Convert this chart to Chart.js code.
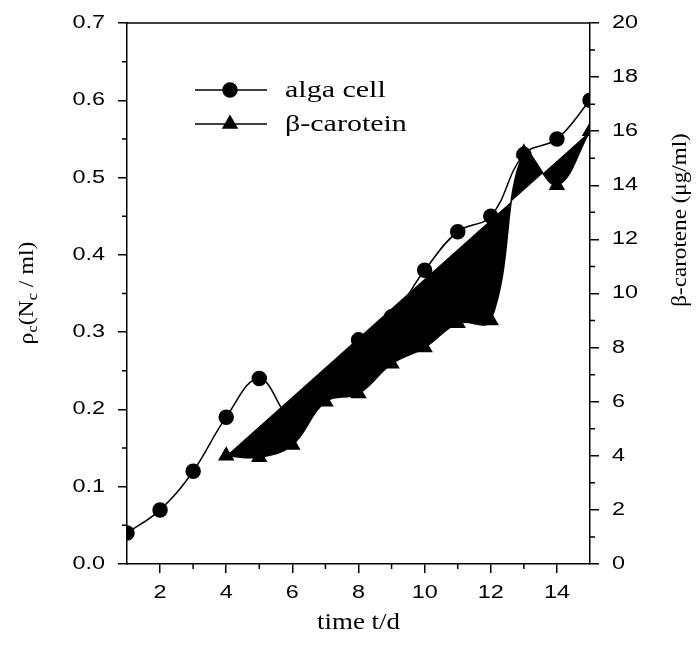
<!DOCTYPE html>
<html>
<head>
<meta charset="utf-8">
<script src="https://cdn.jsdelivr.net/npm/chart.js@4.4.1/dist/chart.umd.min.js"></script>
<style>
  html, body { margin: 0; padding: 0; background: #fff; }
  #wrap { width: 696px; height: 651px; }
</style>
</head>
<body>
<div id="wrap"><canvas id="chart" width="696" height="651"></canvas></div>
<script>
// values
const days = [1, 2, 3, 4, 5, 6, 7, 8, 9, 10, 11, 12, 13, 14, 15];
const algaCell = [0.04, 0.07, 0.12, 0.19, 0.24, 0.19, 0.24, 0.29, 0.32, 0.38, 0.43, 0.45, 0.53, 0.55, 0.60];
const caroteneDays = [4, 5, 6, 7, 8, 9, 10, 11, 12, 13, 14, 15];
const carotene = [4.0, 3.95, 4.4, 6.0, 6.3, 7.4, 8.0, 8.9, 9.0, 15.2, 14.0, 16.0];

const xMajor = [2, 4, 6, 8, 10, 12, 14];
const xMinor = [3, 5, 7, 9, 11, 13];
const leftMajor = [0, 0.1, 0.2, 0.3, 0.4, 0.5, 0.6, 0.7];
const leftMinor = [0.05, 0.15, 0.25, 0.35, 0.45, 0.55, 0.65];
const rightMajor = [0, 2, 4, 6, 8, 10, 12, 14, 16, 18, 20];
const rightMinor = [1, 3, 5, 7, 9, 11, 13, 15, 17, 19];

const SANS = "'Liberation Sans', Arial, sans-serif";
const SERIF = "'Liberation Serif', 'Times New Roman', serif";

const toPoints = (xs, ys) => xs.map((x, i) => ({ x, y: ys[i] }));

// stretched text, the figure's lettering is wide
const wideText = (ctx, str, x, y, sx, align) => {
    ctx.save();
    ctx.translate(x, y);
    ctx.scale(sx, 1);
    ctx.textAlign = align;
    ctx.fillText(str, 0, 0);
    ctx.restore();
}

const setTicks = values => scale => {
    scale.ticks = values.map(value => ({ value }));
}

const decorations = {
    id: 'decorations',
    afterDraw(chart) {
        const { ctx, chartArea: a, scales } = chart;
        ctx.save();
        ctx.strokeStyle = '#000';
        ctx.fillStyle = '#000';
        ctx.lineWidth = 1.5;

        // top frame line
        ctx.beginPath();
        ctx.moveTo(a.left, a.top);
        ctx.lineTo(a.right, a.top);
        ctx.stroke();

        // minor ticks
        ctx.beginPath();
        for (const v of xMinor) {
            const px = scales.x.getPixelForValue(v);
            ctx.moveTo(px, a.bottom);
            ctx.lineTo(px, a.bottom + 5);
        }
        for (const v of leftMinor) {
            const py = scales.y.getPixelForValue(v);
            ctx.moveTo(a.left, py);
            ctx.lineTo(a.left - 5, py);
        }
        for (const v of rightMinor) {
            const py = scales.y1.getPixelForValue(v);
            ctx.moveTo(a.right, py);
            ctx.lineTo(a.right + 5, py);
        }
        ctx.stroke();

        // tick labels
        ctx.font = `18px ${SANS}`;
        ctx.textBaseline = 'middle';
        for (const v of xMajor) {
            wideText(ctx, String(v), scales.x.getPixelForValue(v), a.bottom + 29, 1.3, 'center');
        }
        for (const v of leftMajor) {
            wideText(ctx, v.toFixed(1), a.left - 22, scales.y.getPixelForValue(v), 1.3, 'right');
        }
        for (const v of rightMajor) {
            wideText(ctx, String(v), a.right + 22, scales.y1.getPixelForValue(v), 1.3, 'left');
        }

        // x title
        ctx.font = `23px ${SERIF}`;
        wideText(ctx, 'time t/d', (a.left + a.right) / 2, 623, 1.17, 'center');

        // left title with subscripts, rotated
        const parts = [['ρ', 0], ['c', 1], ['(N', 0], ['c', 1], [' / ml)', 0]];
        const big = `22px ${SERIF}`, small = `15px ${SERIF}`;
        let total = 0;
        for (const [t, sub] of parts) {
            ctx.font = sub ? small : big;
            total += ctx.measureText(t).width;
        }
        ctx.save();
        ctx.translate(27, 293);
        ctx.rotate(-Math.PI / 2);
        ctx.scale(1.08, 1);
        ctx.textAlign = 'left';
        let cx = -total / 2;
        for (const [t, sub] of parts) {
            ctx.font = sub ? small : big;
            ctx.fillText(t, cx, sub ? 6 : 0);
            cx += ctx.measureText(t).width;
        }
        ctx.restore();

        // right title
        ctx.save();
        ctx.font = big;
        ctx.translate(680, 220);
        ctx.rotate(-Math.PI / 2);
        ctx.scale(1.05, 1);
        ctx.textAlign = 'center';
        ctx.fillText('β-carotene (μg/ml)', 0, 0);
        ctx.restore();

        // legend
        const rows = [['alga cell', 'circle', 90], ['β-carotein', 'triangle', 124]];
        for (const [label, style, y] of rows) {
            ctx.beginPath();
            ctx.moveTo(195, y);
            ctx.lineTo(267, y);
            ctx.stroke();
            Chart.helpers.drawPoint(ctx, { pointStyle: style, radius: style === 'circle' ? 7 : 8, borderWidth: 1 }, 230, y);
            ctx.fill();
            ctx.font = `24px ${SERIF}`;
            wideText(ctx, label, 285, y + 1, 1.25, 'left');
        }
        ctx.restore();
    }
};

new Chart(document.getElementById('chart'), {
    type: 'line',
    data: {
        datasets: [
            {
                label: 'alga cell',
                data: toPoints(days, algaCell),
                yAxisID: 'y',
                borderColor: '#000',
                borderWidth: 1.5,
                pointStyle: 'circle',
                pointRadius: 7,
                pointBackgroundColor: '#000',
                pointBorderColor: '#000',
                tension: 0.4,
                fill: false
            },
            {
                label: 'β-carotein',
                data: toPoints(caroteneDays, carotene),
                yAxisID: 'y1',
                borderColor: '#000',
                borderWidth: 1.5,
                backgroundColor: '#000',
                pointStyle: 'triangle',
                pointRadius: 8,
                pointBackgroundColor: '#000',
                pointBorderColor: '#000',
                tension: 0.4,
                fill: 2
            },
            {
                // straight line from first to last carotene point, the fill closes on it
                label: 'chord',
                data: [
                    { x: caroteneDays[0], y: carotene[0] },
                    { x: caroteneDays[caroteneDays.length - 1], y: carotene[carotene.length - 1] }
                ],
                yAxisID: 'y1',
                borderWidth: 0,
                borderColor: 'rgba(0,0,0,0)',
                pointRadius: 0,
                tension: 0,
                fill: false
            }
        ]
    },
    options: {
        responsive: false,
        animation: false,
        devicePixelRatio: 1,
        layout: { padding: { top: 23, left: 0, right: 0, bottom: 0 } },
        plugins: {
            legend: { display: false },
            tooltip: { enabled: false }
        },
        scales: {
            x: {
                type: 'linear',
                min: 1,
                max: 15,
                afterBuildTicks: setTicks(xMajor),
                afterFit: s => { s.height = 87; },
                ticks: { display: false },
                grid: { drawOnChartArea: false, tickLength: 9, color: '#000', lineWidth: 1.5 },
                border: { display: true, color: '#000', width: 1.5 }
            },
            y: {
                position: 'left',
                min: 0,
                max: 0.7,
                afterBuildTicks: setTicks(leftMajor),
                afterFit: s => { s.width = 127; },
                ticks: { display: false },
                grid: { drawOnChartArea: false, tickLength: 9, color: '#000', lineWidth: 1.5 },
                border: { display: true, color: '#000', width: 1.5 }
            },
            y1: {
                position: 'right',
                min: 0,
                max: 20,
                afterBuildTicks: setTicks(rightMajor),
                afterFit: s => { s.width = 106; },
                ticks: { display: false },
                grid: { drawOnChartArea: false, tickLength: 9, color: '#000', lineWidth: 1.5 },
                border: { display: true, color: '#000', width: 1.5 }
            }
        }
    },
    plugins: [decorations]
});
</script>
</body>
</html>
